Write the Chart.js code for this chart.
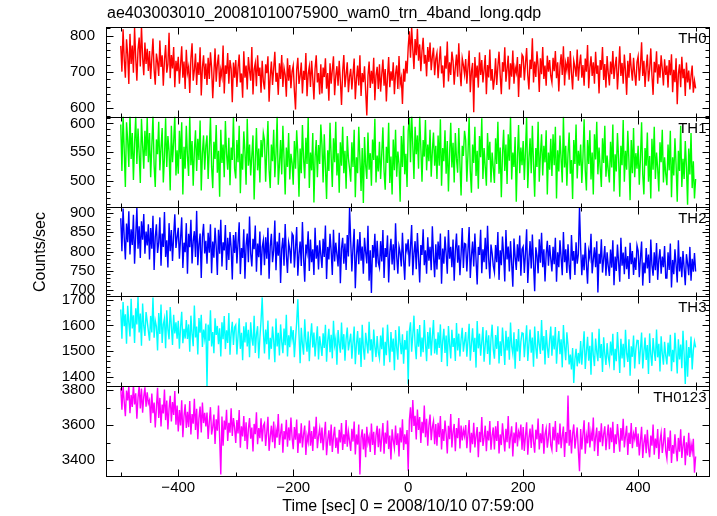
<!DOCTYPE html>
<html><head><meta charset="utf-8">
<script src="https://cdn.jsdelivr.net/npm/chart.js@4.4.0/dist/chart.umd.min.js"></script>
<style>html,body{margin:0;padding:0;background:#fff;}#wrap{width:717px;height:516px;position:relative;}</style>
</head><body><div id="wrap"><canvas id="c" width="717" height="516"></canvas></div>
<script>
const TITLE = 'ae403003010_20081010075900_wam0_trn_4band_long.qdp';
const X_TITLE = 'Time [sec] 0 = 2008/10/10 07:59:00';
const Y_TITLE = 'Counts/sec';
const bandNames = ['TH0', 'TH1', 'TH2', 'TH3', 'TH0123'];
const T_START = -500, T_STEP = 2;
const xTickLabels = [-400, -200, 0, 200, 400];
const xMinorTicks = [-500, -300, -100, 100, 300, 500];
const th0Ticks = [600, 700, 800];
const th1Ticks = [500, 550, 600];
const th2Ticks = [700, 750, 800, 850, 900];
const th3Ticks = [1400, 1500, 1600, 1700];
const th0123Ticks = [3400, 3600, 3800];

const th0 = [
772,701,818,735,684,790,749,667,805,722,773,698,821,739,676,762,795,715,826,740,691,781,722,764,703,
758,681,739,792,706,665,751,728,689,787,714,746,662,733,774,698,721,808,683,747,710,769,658,731,702,
742,668,719,771,684,729,653,761,697,714,642,738,779,676,705,751,664,727,692,768,635,712,746,681,723,
664,739,681,754,712,628,697,765,673,721,748,659,706,687,773,641,718,695,752,668,733,709,617,726,684,
733,659,712,748,671,696,629,757,684,718,652,741,703,676,769,638,707,725,661,746,689,712,643,731,674,
652,721,697,743,618,688,729,664,709,756,673,698,637,724,681,747,659,711,692,632,738,676,719,655,702,
718,648,597,706,739,667,689,726,641,703,678,752,633,694,715,659,731,682,624,709,746,671,697,638,721,
641,712,686,738,654,697,621,724,668,705,743,636,689,716,662,731,675,609,702,747,658,693,727,644,687,
709,652,694,737,625,681,718,663,746,634,697,672,716,648,580,689,729,656,703,668,739,622,691,714,653,
721,646,693,734,662,708,619,687,741,658,702,676,727,639,695,718,653,744,667,684,612,709,673,731,696,
768,812,739,824,763,708,791,746,819,731,776,702,758,794,723,747,688,769,728,781,705,742,767,691,736,
752,683,729,771,696,718,657,745,709,784,674,727,692,756,731,665,713,748,687,779,702,661,738,719,694,
736,668,713,759,644,702,725,589,741,684,718,657,754,692,733,671,706,747,639,719,685,762,676,708,651,
681,738,664,715,756,692,639,727,701,768,673,709,745,652,724,687,759,668,713,698,741,631,722,684,748,
742,677,723,766,691,652,734,708,793,671,729,686,757,715,645,738,694,769,681,718,662,745,701,733,689,
671,739,702,758,683,727,646,716,749,692,771,663,724,705,742,679,758,697,652,731,714,687,762,676,721,
748,684,719,662,737,701,774,655,712,743,689,727,668,756,695,718,641,733,706,769,678,722,657,744,697,
663,729,694,758,681,716,742,652,707,771,689,725,668,748,703,637,731,684,752,709,676,739,695,662,727,
743,676,718,782,689,731,659,712,748,674,706,765,691,637,728,699,757,668,721,684,746,709,663,735,692,
718,657,733,691,749,644,706,672,738,611,695,721,658,742,683,709,634,726,671,704,652,689,718,643,676,
655];

const th1 = [
598,517,614,553,489,602,571,524,619,538,583,501,566,612,529,591,547,496,608,562,521,587,543,611,532,
583,506,561,614,527,489,572,546,603,518,557,592,497,541,609,524,578,551,483,596,532,567,615,509,553,
512,587,538,602,476,559,521,596,543,508,614,527,569,491,552,588,517,573,536,605,483,548,579,519,561,
579,503,556,611,524,487,568,538,597,514,552,472,589,531,563,506,604,547,519,575,492,558,536,612,521,
504,571,532,596,478,547,519,586,551,493,608,526,563,509,544,579,467,536,592,518,556,497,571,541,583,
571,498,552,604,519,487,563,534,589,506,547,612,493,528,571,511,596,539,476,558,524,583,502,547,531,
493,569,521,588,547,472,556,513,597,538,504,575,529,611,487,549,518,583,462,541,571,506,562,529,598,
562,497,581,524,468,553,517,601,541,489,574,532,603,509,548,479,567,526,594,513,552,486,578,539,521,
498,567,524,589,471,541,513,594,538,482,557,461,576,527,503,584,519,548,491,572,536,608,497,544,516,
568,503,547,593,517,484,559,531,601,496,542,476,572,518,589,507,551,529,463,578,524,596,511,547,489,
587,611,532,618,561,503,594,546,579,521,613,557,498,571,542,606,518,563,534,589,507,552,584,526,561,
503,579,526,607,491,557,534,588,512,569,481,546,601,523,566,497,583,538,514,592,529,474,561,543,587,
571,498,546,612,517,479,563,531,594,508,552,486,578,541,609,503,557,524,491,583,536,568,497,549,522,
496,574,529,603,512,558,471,546,589,517,563,494,581,535,612,502,549,524,576,463,541,597,513,558,527,
569,501,552,611,487,538,574,513,596,529,472,557,524,603,498,546,581,509,561,532,588,476,549,519,573,
508,581,527,594,469,553,516,579,538,497,612,523,561,491,547,584,512,536,468,571,529,598,504,552,526,
563,496,541,607,518,483,571,529,588,502,549,476,581,537,603,511,558,522,489,574,531,596,507,544,518,
497,568,523,598,481,546,516,583,539,472,561,527,606,498,552,519,587,534,466,571,513,592,506,548,521,
561,493,538,602,511,476,557,526,584,498,543,469,573,519,594,503,549,521,481,567,532,589,497,541,512,
492,563,518,587,471,541,509,574,528,463,552,517,596,489,538,503,569,524,458,556,511,583,487,534,469,
503];

const th2 = [
887,801,912,836,779,873,824,905,792,858,817,896,768,842,914,807,866,783,879,831,898,794,852,816,871,
779,861,807,893,752,838,871,796,824,889,763,847,812,903,786,829,758,874,801,856,775,842,897,809,838,
862,781,834,889,757,823,798,874,742,846,811,883,769,827,853,786,906,764,819,847,731,838,872,795,828,
768,849,797,871,743,826,784,862,812,739,857,794,883,761,824,803,869,752,836,778,851,809,727,843,796,
851,769,823,876,741,809,783,858,729,816,847,772,891,794,761,833,806,868,747,821,785,852,738,811,829,
764,837,781,862,729,814,846,772,803,881,751,826,789,849,718,807,836,763,872,791,744,823,806,769,847,
841,758,809,864,737,793,826,762,877,784,721,818,798,853,749,831,772,806,739,862,781,816,753,829,791,
757,833,786,868,728,812,779,846,801,739,857,774,823,792,761,849,717,808,836,768,821,752,843,787,915,
826,748,811,859,704,789,832,767,851,776,813,742,836,798,769,867,724,803,692,817,784,846,759,828,771,
758,827,774,856,731,809,786,842,719,798,833,766,819,751,874,787,742,813,797,761,849,778,726,821,803,
832,761,812,869,738,796,827,754,848,783,719,817,791,858,764,803,742,837,776,812,751,866,789,733,819,
753,826,779,847,716,808,768,839,794,742,856,781,812,759,831,724,802,847,771,816,738,793,861,757,821,
819,748,803,864,731,789,826,761,847,779,714,812,791,857,743,806,772,836,754,867,781,729,818,796,763,
746,817,772,851,726,803,764,839,791,722,856,779,813,748,827,769,708,834,786,752,819,774,842,737,806,
813,744,796,858,718,779,827,756,844,767,696,811,789,743,832,771,849,759,806,722,794,828,763,817,781,
748,812,767,836,721,798,759,829,784,738,851,772,806,744,819,763,727,843,776,801,739,824,768,793,916,
809,738,792,751,823,767,716,801,784,846,743,778,811,759,827,693,794,768,832,745,781,814,737,798,762,
736,805,758,829,712,787,749,818,772,721,836,763,797,741,812,754,788,728,823,767,801,739,784,752,816,
802,733,784,826,711,771,743,809,756,792,718,831,764,737,798,751,822,726,779,806,742,787,759,814,731,
731,798,752,821,706,778,741,806,765,719,829,748,786,733,801,757,712,793,769,738,812,724,781,747,796,
748];

const th3 = [
1662,1548,1691,1597,1643,1529,1676,1611,1557,1704,1588,1639,1532,1667,1604,1712,1573,1646,1521,1685,1598,1559,1652,1617,1578,
1541,1637,1573,1709,1552,1619,1596,1503,1648,1567,1681,1532,1604,1627,1511,1659,1584,1546,1672,1598,1524,1641,1569,1612,1548,
1618,1509,1592,1653,1531,1587,1549,1621,1547,1604,1498,1638,1566,1519,1677,1553,1596,1487,1629,1572,1641,1516,1584,1549,1607,
1365,1603,1541,1659,1518,1574,1492,1628,1563,1598,1527,1589,1479,1612,1546,1637,1508,1581,1532,1648,1486,1569,1614,1524,1593,
1602,1487,1559,1628,1509,1571,1465,1597,1534,1612,1518,1583,1476,1612,1549,1521,1638,1493,1566,1597,1472,1551,1619,1709,1578,
1491,1584,1527,1619,1468,1552,1509,1596,1541,1457,1627,1518,1571,1483,1604,1536,1492,1588,1523,1641,1479,1562,1515,1597,1546,
1582,1476,1548,1613,1702,1567,1453,1591,1527,1486,1624,1539,1498,1576,1461,1553,1608,1514,1572,1479,1543,1597,1468,1558,1521,
1481,1569,1512,1603,1459,1541,1587,1496,1564,1472,1618,1523,1549,1447,1582,1531,1494,1611,1507,1566,1463,1548,1592,1503,1537,
1568,1471,1534,1596,1449,1527,1578,1486,1552,1438,1603,1512,1467,1571,1529,1491,1614,1503,1546,1459,1584,1518,1477,1559,1496,
1472,1561,1508,1592,1443,1536,1484,1603,1521,1457,1574,1498,1549,1426,1582,1513,1467,1597,1531,1488,1566,1451,1543,1506,1579,
1371,1577,1612,1498,1563,1638,1524,1469,1586,1517,1602,1478,1553,1496,1621,1532,1461,1574,1509,1592,1483,1557,1621,1491,1548,
1486,1573,1512,1604,1458,1539,1587,1493,1561,1441,1598,1527,1472,1583,1516,1551,1462,1609,1503,1568,1479,1546,1591,1498,1537,
1574,1478,1541,1606,1463,1528,1589,1497,1552,1436,1617,1511,1568,1482,1536,1594,1459,1523,1581,1489,1562,1447,1548,1603,1506,
1471,1563,1509,1597,1452,1538,1481,1592,1524,1446,1579,1503,1556,1467,1611,1518,1489,1573,1432,1547,1499,1586,1462,1537,1571,
1569,1476,1538,1601,1462,1526,1584,1494,1553,1439,1596,1512,1471,1578,1527,1489,1621,1503,1559,1448,1582,1516,1474,1543,1596,
1482,1561,1507,1594,1451,1529,1578,1488,1546,1437,1602,1519,1465,1573,1524,1448,1487,1429,1512,1376,1468,1509,1441,1493,1452,
1539,1447,1512,1577,1431,1498,1556,1463,1521,1408,1573,1484,1442,1549,1496,1461,1587,1473,1528,1419,1554,1489,1446,1531,1478,
1452,1537,1483,1568,1426,1509,1461,1574,1496,1415,1548,1472,1529,1437,1583,1491,1458,1546,1404,1519,1478,1561,1433,1507,1542,
1541,1449,1508,1572,1433,1497,1553,1466,1524,1411,1569,1486,1443,1551,1498,1462,1584,1476,1529,1421,1558,1491,1447,1536,1482,
1448,1533,1479,1564,1422,1505,1457,1571,1492,1413,1546,1468,1526,1434,1579,1487,1372,1542,1401,1516,1474,1557,1429,1503,1538,
1515];

const th0123 = [
3812,3689,3829,3734,3651,3798,3741,3826,3668,3773,3704,3831,3719,3782,3637,3756,3824,3695,3809,3671,3762,3817,3706,3788,3724,
3743,3612,3781,3668,3729,3587,3702,3814,3641,3756,3593,3718,3667,3804,3629,3741,3576,3695,3768,3621,3732,3659,3796,3603,3712,
3564,3687,3598,3742,3531,3652,3719,3584,3676,3589,3738,3547,3663,3608,3751,3572,3694,3519,3641,3706,3558,3729,3612,3671,3593,
3672,3521,3618,3703,3546,3589,3661,3492,3634,3568,3712,3527,3317,3649,3483,3626,3574,3688,3509,3613,3557,3697,3538,3641,3586,
3498,3629,3552,3687,3471,3594,3536,3652,3509,3617,3462,3578,3641,3523,3586,3449,3607,3548,3674,3491,3583,3526,3639,3507,3597,
3612,3481,3559,3648,3453,3534,3597,3502,3621,3468,3573,3529,3664,3487,3551,3609,3442,3566,3518,3631,3476,3587,3512,3643,3529,
3462,3589,3517,3632,3441,3553,3496,3611,3472,3547,3598,3429,3541,3504,3627,3483,3566,3452,3592,3521,3648,3468,3537,3581,3497,
3587,3456,3542,3619,3428,3513,3571,3482,3603,3447,3536,3591,3469,3529,3436,3574,3501,3612,3458,3548,3493,3629,3477,3561,3509,
3453,3579,3506,3621,3432,3547,3489,3603,3318,3528,3576,3461,3552,3417,3591,3498,3534,3446,3609,3487,3562,3429,3543,3596,3474,
3581,3448,3529,3612,3437,3558,3494,3627,3463,3541,3403,3576,3512,3469,3598,3486,3553,3421,3587,3501,3634,3458,3547,3491,3572,
3339,3628,3702,3561,3744,3596,3653,3518,3689,3572,3647,3498,3619,3554,3712,3531,3637,3482,3598,3661,3514,3589,3623,3491,3607,
3482,3613,3531,3652,3461,3578,3509,3627,3549,3438,3596,3519,3664,3472,3561,3607,3451,3583,3526,3641,3467,3598,3512,3573,3537,
3601,3468,3547,3629,3443,3556,3491,3614,3472,3538,3589,3417,3562,3503,3646,3481,3527,3597,3451,3568,3512,3623,3459,3541,3587,
3461,3594,3509,3623,3438,3547,3486,3611,3528,3449,3579,3502,3652,3467,3536,3593,3421,3558,3497,3616,3478,3562,3531,3604,3459,
3589,3452,3538,3617,3431,3526,3581,3469,3603,3508,3442,3574,3519,3638,3461,3553,3497,3606,3437,3548,3582,3471,3529,3612,3486,
3458,3591,3512,3624,3447,3556,3489,3609,3468,3537,3592,3418,3561,3497,3769,3482,3573,3438,3551,3604,3466,3529,3587,3452,3336,
3578,3461,3549,3628,3437,3541,3496,3617,3472,3559,3508,3643,3451,3532,3586,3423,3567,3502,3611,3479,3548,3593,3457,3536,3604,
3463,3587,3502,3619,3441,3548,3491,3606,3527,3448,3583,3511,3637,3472,3539,3596,3429,3557,3493,3612,3468,3551,3521,3589,3476,
3552,3427,3509,3591,3412,3497,3548,3439,3573,3468,3416,3541,3482,3604,3431,3523,3469,3578,3407,3511,3556,3441,3498,3584,3452,
3409,3531,3452,3569,3384,3486,3437,3548,3461,3393,3527,3448,3576,3412,3481,3539,3371,3502,3426,3557,3418,3493,3447,3522,3328,
3421];

const FONT = '"Liberation Sans", Arial, Helvetica, sans-serif';
const series = [th0, th1, th2, th3, th0123];
const majorTicks = [th0Ticks, th1Ticks, th2Ticks, th3Ticks, th0123Ticks];
const colors = ['#ff0000', '#00ff00', '#0000ff', '#00ffff', '#ff00ff'];
const panels = [
  {min: 576.5, max: 824, minor: 20},
  {min: 454.7, max: 611.5, minor: 10},
  {min: 682.8, max: 917.2, minor: 10},
  {min: 1363.7, max: 1712.9, minor: 20},
  {min: 3309, max: 3823, minor: 100}
];
const times = th0.map((_, i) => T_START + i * T_STEP);

const scales = {
  x: {
    type: 'linear', position: 'bottom', min: -525.7, max: 525,
    grid: {display: false, drawTicks: false}, border: {display: false},
    afterBuildTicks: s => { s.ticks = xTickLabels.map(v => ({value: v})); },
    afterFit: s => { s.height = 40; },
    ticks: {font: {family: FONT, size: 15}, color: '#000', padding: 3, maxRotation: 0, autoSkip: false,
      callback: v => String(v).replace('-', '\u2212')},
    title: {display: true, text: X_TITLE, font: {family: FONT, size: 16}, color: '#000', padding: {top: 0, bottom: 0}}
  }
};
// stacked left axes are laid out last-defined-first, so define the bottom panel first
for (let k = panels.length - 1; k >= 0; k--) {
  const p = panels[k];
  scales['y' + k] = {
    type: 'linear', position: 'left', stack: 'panels', stackWeight: 1,
    min: p.min, max: p.max,
    grid: {display: false, drawTicks: false}, border: {display: false},
    afterBuildTicks: s => { s.ticks = majorTicks[k].map(v => ({value: v})); },
    afterFit: s => { s.width = 106; },
    ticks: {font: {family: FONT, size: 15}, color: '#000', padding: 11, autoSkip: false, callback: v => String(v)}
  };
}

const framePlugin = {
  id: 'qdpFrame',
  afterDraw(chart) {
    const ctx = chart.ctx, ca = chart.chartArea, xs = chart.scales.x;
    const L = Math.round(ca.left) + 0.5, R = Math.round(ca.right) - 0.5;
    ctx.save();
    ctx.strokeStyle = '#000'; ctx.lineWidth = 1;
    panels.forEach((p, k) => {
      const s = chart.scales['y' + k];
      const T = Math.round(s.top) + 0.5, B = Math.round(s.bottom) + 0.5;
      ctx.strokeRect(L, T, R - L, B - T);
      ctx.beginPath();
      const start = Math.ceil(p.min / p.minor) * p.minor;
      for (let v = start; v <= p.max; v += p.minor) {
        const y = Math.round(s.getPixelForValue(v)) + 0.5;
        const len = majorTicks[k].includes(v) ? 7 : 4;
        ctx.moveTo(L, y); ctx.lineTo(L + len, y);
        ctx.moveTo(R, y); ctx.lineTo(R - len, y);
      }
      xTickLabels.concat(xMinorTicks).forEach(v => {
        const x = Math.round(xs.getPixelForValue(v)) + 0.5;
        const len = xTickLabels.includes(v) ? 7 : 4;
        ctx.moveTo(x, T); ctx.lineTo(x, T + len);
        ctx.moveTo(x, B); ctx.lineTo(x, B - len);
      });
      ctx.stroke();
      ctx.fillStyle = '#000'; ctx.font = '15px ' + FONT;
      ctx.textAlign = 'right'; ctx.textBaseline = 'middle';
      ctx.fillText(bandNames[k], R - 3, T + 11);
    });
    ctx.fillStyle = '#000'; ctx.font = '16px ' + FONT;
    ctx.textAlign = 'left'; ctx.textBaseline = 'middle';
    ctx.fillText(TITLE, 107, 14);
    ctx.translate(41, 252); ctx.rotate(-Math.PI / 2);
    ctx.textAlign = 'center';
    ctx.fillText(Y_TITLE, 0, 0);
    ctx.restore();
  }
};

new Chart(document.getElementById('c'), {
  type: 'line',
  data: {
    datasets: series.map((arr, k) => ({
      label: bandNames[k],
      data: arr.map((v, i) => ({x: times[i], y: v})),
      xAxisID: 'x', yAxisID: 'y' + k,
      borderColor: colors[k], borderWidth: 1.4, pointRadius: 0, tension: 0, fill: false, clip: 0
    }))
  },
  options: {
    responsive: false, animation: false, devicePixelRatio: 1,
    layout: {padding: {top: 27, right: 7, left: 0, bottom: 0}},
    plugins: {legend: {display: false}, tooltip: {enabled: false}, title: {display: false}},
    scales: scales
  },
  plugins: [framePlugin]
});
</script></body></html>
